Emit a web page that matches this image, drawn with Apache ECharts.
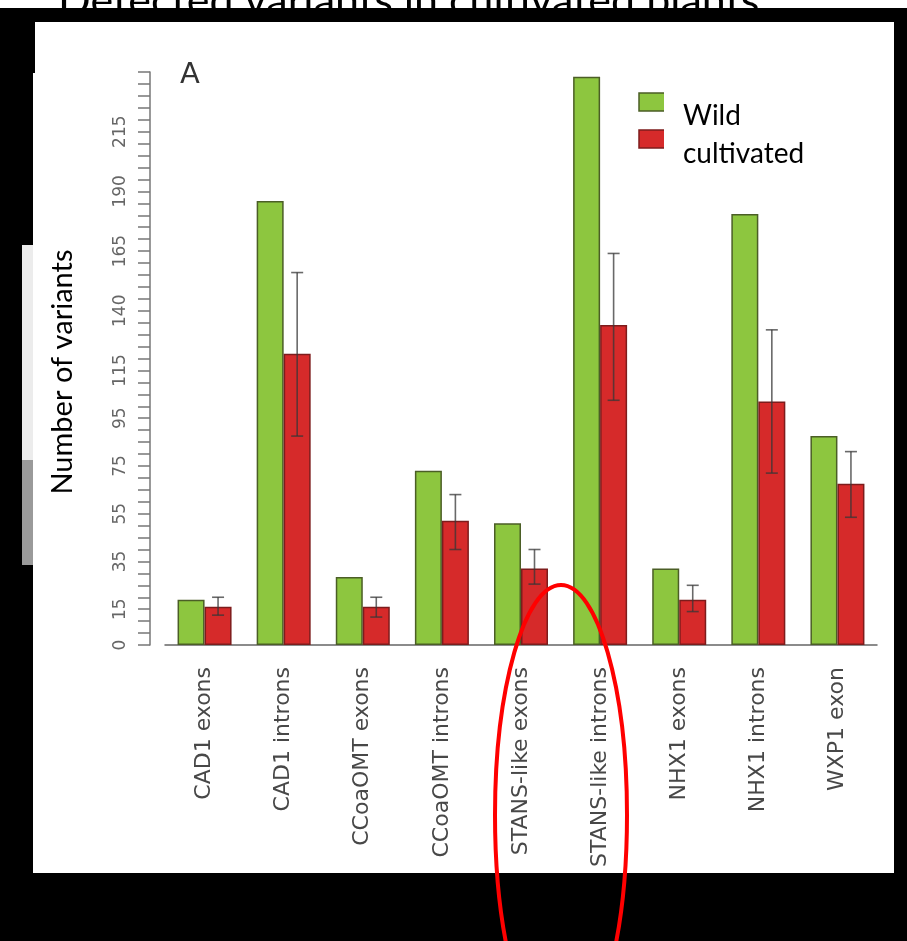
<!DOCTYPE html>
<html>
<head>
<meta charset="utf-8">
<script src="https://cdn.jsdelivr.net/npm/echarts@6/dist/echarts.min.js"></script>
<style>html,body{margin:0;padding:0;background:#fff}#c{width:907px;height:941px}</style>
</head>
<body>
<div id="c"></div>
<script>
const categories = ['CAD1 exons','CAD1 introns','CCoaOMT exons','CCoaOMT introns','STANS-like exons','STANS-like introns','NHX1 exons','NHX1 introns','WXP1 exon'];
const wildValues = [19, 186, 28.5, 73, 51, 238, 32, 180.5, 87.5];
const cultivatedValues = [16, 122, 16, 52, 32, 134, 19, 102, 67.5];
const cultivatedErrLow = [12.5, 87.5, 11.7, 40, 25.5, 102.5, 14, 72, 53.5];
const cultivatedErrHigh = [20, 156, 20, 63, 40, 164, 25, 132, 81];
const yTickLabels = [0, 15, 35, 55, 75, 95, 115, 140, 165, 190, 215];
const seriesNames = ['Wild', 'cultivated'];

const chart = echarts.init(document.getElementById('c'), null, {renderer: 'canvas'});
const BAR_W = 27;
const errData = categories.map((c, i) => [i, cultivatedErrLow[i], cultivatedErrHigh[i]]);

const option = {
  backgroundColor: '#ffffff',
  animation: false,
  grid: {left: 165, right: 30, top: 72, bottom: 296, containLabel: false},
  xAxis: {
    type: 'category',
    data: categories,
    axisLine: {show: true, lineStyle: {color: '#666', width: 1.5}},
    axisTick: {show: false},
    axisLabel: {rotate: 90, margin: 22, fontSize: 22, color: '#484848', fontFamily: 'DejaVu Sans'}
  },
  yAxis: {
    type: 'value',
    min: 0, max: 240, interval: 5,
    offset: 15,
    axisLine: {show: true, lineStyle: {color: '#777', width: 1.5}},
    axisTick: {show: true, inside: false, length: 12, lineStyle: {color: '#777', width: 1.5}},
    splitLine: {show: false},
    axisLabel: {
      rotate: 90, margin: 21, fontSize: 17, color: '#666', fontFamily: 'DejaVu Sans',
      formatter: v => (yTickLabels.indexOf(v) >= 0 ? String(v) : '')
    }
  },
  series: [
    {
      name: seriesNames[0], type: 'bar', data: wildValues,
      barWidth: BAR_W, barGap: '0%',
      itemStyle: {color: '#8dc63f', borderColor: '#4b5e26', borderWidth: 1.5}
    },
    {
      name: seriesNames[1], type: 'bar', data: cultivatedValues,
      barWidth: BAR_W, barGap: '0%',
      itemStyle: {color: '#d62a2a', borderColor: '#7d1c1c', borderWidth: 1.5}
    },
    {
      type: 'custom', name: 'err', data: errData, z: 5,
      renderItem: function (params, api) {
        const i = api.value(0);
        const lo = api.coord([i, api.value(1)]);
        const hi = api.coord([i, api.value(2)]);
        const x = lo[0] + BAR_W / 2;
        const cap = 6;
        const st = {stroke: 'rgba(55,55,55,0.75)', lineWidth: 1.6};
        return {
          type: 'group',
          children: [
            {type: 'line', shape: {x1: x, y1: lo[1], x2: x, y2: hi[1]}, style: st},
            {type: 'line', shape: {x1: x - cap, y1: lo[1], x2: x + cap, y2: lo[1]}, style: st},
            {type: 'line', shape: {x1: x - cap, y1: hi[1], x2: x + cap, y2: hi[1]}, style: st}
          ]
        };
      }
    }
  ],
  graphic: [
    {type: 'text', left: 180, top: 61, z: 50, style: {text: 'A', fontSize: 29, fill: '#333', fontFamily: 'DejaVu Sans'}},
    {type: 'rect', z: 50, shape: {x: 639, y: 93, width: 26, height: 18}, style: {fill: '#8dc63f', stroke: '#4b5e26', lineWidth: 1.5}},
    {type: 'rect', z: 50, shape: {x: 639, y: 130, width: 26, height: 18}, style: {fill: '#d62a2a', stroke: '#7d1c1c', lineWidth: 1.5}},
    {type: 'rect', z: 51, shape: {x: 664, y: 82, width: 170, height: 93}, style: {fill: '#fff'}},
    {type: 'text', z: 52, x: 683, y: 116, style: {text: seriesNames[0], fontSize: 28, fill: '#000', fontFamily: 'Lato', textVerticalAlign: 'middle'}},
    {type: 'text', z: 52, x: 683, y: 154, style: {text: seriesNames[1], fontSize: 28, fill: '#000', fontFamily: 'Lato', textVerticalAlign: 'middle'}},
    {type: 'text', z: 52, x: 63, y: 372, rotation: Math.PI / 2,
     style: {text: 'Number of variants', fontSize: 29, fill: '#000', fontFamily: 'Lato', textAlign: 'center', textVerticalAlign: 'middle'}},
    {type: 'rect', z: 100, shape: {x: 0, y: 8, width: 907, height: 14}, style: {fill: '#000'}},
    {type: 'rect', z: 100, shape: {x: 0, y: 8, width: 35, height: 65}, style: {fill: '#000'}},
    {type: 'rect', z: 100, shape: {x: 0, y: 73, width: 33, height: 800}, style: {fill: '#000'}},
    {type: 'rect', z: 101, shape: {x: 22, y: 245, width: 11, height: 215}, style: {fill: '#ececec'}},
    {type: 'rect', z: 101, shape: {x: 22, y: 460, width: 11, height: 105}, style: {fill: '#9a9a9a'}},
    {type: 'rect', z: 100, shape: {x: 894, y: 8, width: 13, height: 865}, style: {fill: '#000'}},
    {type: 'rect', z: 100, shape: {x: 0, y: 873, width: 907, height: 68}, style: {fill: '#000'}},
    {type: 'text', z: 102, x: 58, y: 23, style: {text: 'Detected variants in cultivated plants', fontSize: 43, fill: '#000', fontFamily: 'Lato', textVerticalAlign: 'bottom'}},
    {type: 'ellipse', z: 120, shape: {cx: 561, cy: 815, rx: 66, ry: 230}, style: {fill: 'none', stroke: '#ff0000', lineWidth: 4}}
  ]
};
chart.setOption(option);
</script>
</body>
</html>
